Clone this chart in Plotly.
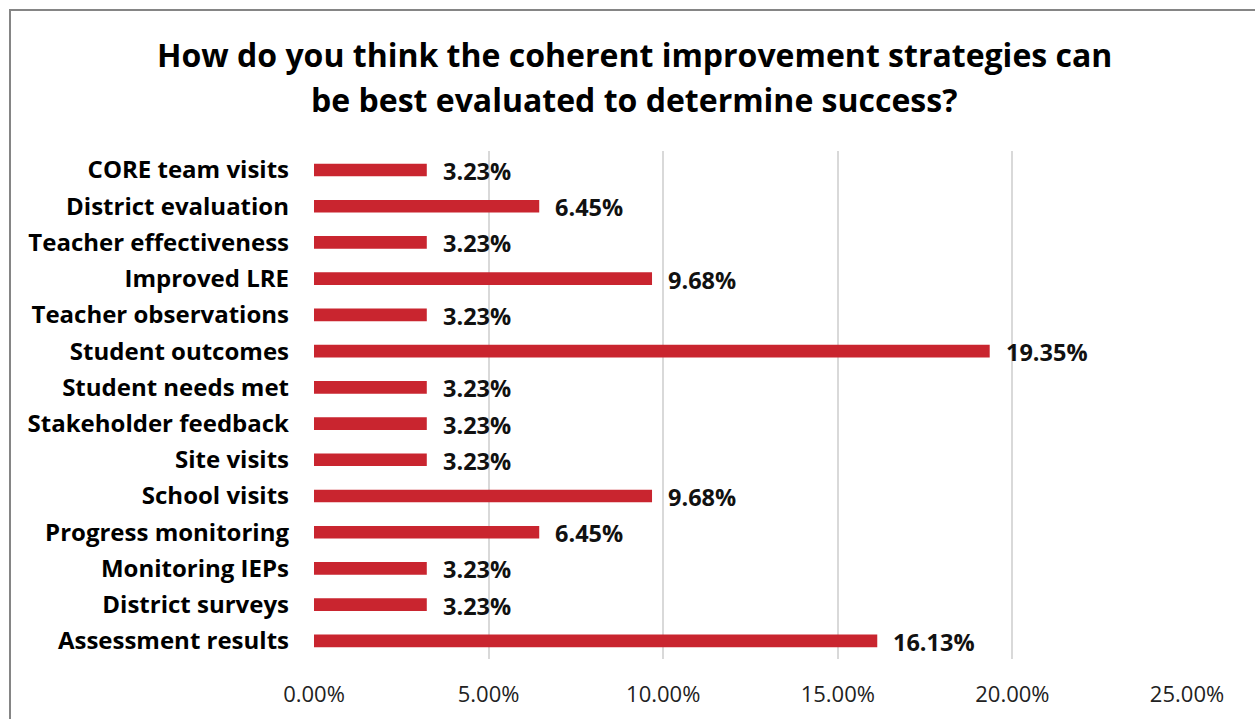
import plotly.graph_objects as go

# Survey responses, listed top to bottom as displayed
categories = [
    "CORE team visits",
    "District evaluation",
    "Teacher effectiveness",
    "Improved LRE",
    "Teacher observations",
    "Student outcomes",
    "Student needs met",
    "Stakeholder feedback",
    "Site visits",
    "School visits",
    "Progress monitoring",
    "Monitoring IEPs",
    "District surveys",
    "Assessment results",
]
shares = [
    0.0323, 0.0645, 0.0323, 0.0968, 0.0323, 0.1935, 0.0323,
    0.0323, 0.0323, 0.0968, 0.0645, 0.0323, 0.0323, 0.1613,
]
x_ticks = [0.0, 0.05, 0.10, 0.15, 0.20, 0.25]

TITLE_LINES = [
    "How do you think the coherent improvement strategies can",
    "be best evaluated to determine success?",
]
FONT = "Open Sans"
BAR_COLOR = "#C9252F"

W, H = 1255, 719
M_L, M_R, M_T, M_B = 314, 68, 151, 60
pw = W - M_L - M_R
ph = H - M_T - M_B


def px_to_paper_x(px):
    return (px - M_L) / pw


def px_to_paper_y(py):
    return (H - M_B - py) / ph


fig = go.Figure(
    go.Bar(
        x=shares,
        y=categories,
        orientation="h",
        marker=dict(color=BAR_COLOR, line=dict(width=0)),
        width=0.35,
        hoverinfo="skip",
    )
)

# Value labels to the right of each bar
for cat, v in zip(categories, shares):
    fig.add_annotation(
        x=v, y=cat, xref="x", yref="y",
        text=f"<b>{v * 100:.2f}%</b>",
        showarrow=False, xanchor="left", yanchor="middle",
        xshift=14, yshift=-1,
        font=dict(family=FONT, size=23.5, color="#111111"),
    )

# Two-line heading
for line, py in zip(TITLE_LINES, [55, 100]):
    fig.add_annotation(
        x=px_to_paper_x(634), y=px_to_paper_y(py),
        xref="paper", yref="paper",
        text=f"<b>{line}</b>",
        showarrow=False, xanchor="center", yanchor="middle",
        font=dict(family=FONT, size=32, color="#000000"),
    )

# Outer frame around the chart area
fig.add_shape(
    type="rect", xref="paper", yref="paper",
    x0=px_to_paper_x(10), x1=px_to_paper_x(W + 8),
    y0=px_to_paper_y(H + 8), y1=px_to_paper_y(10),
    line=dict(color="#858585", width=2), fillcolor="rgba(0,0,0,0)",
    layer="below",
)

fig.update_layout(
    width=W, height=H,
    margin=dict(l=M_L, r=M_R, t=M_T, b=M_B),
    paper_bgcolor="white", plot_bgcolor="white",
    showlegend=False,
    font=dict(family=FONT, color="#000000"),
    xaxis=dict(
        range=[0, 0.25],
        tickvals=x_ticks,
        tickformat=".2%",
        showgrid=True, gridcolor="#D9D9D9", gridwidth=2,
        zeroline=False, showline=False,
        ticks="", ticklabelstandoff=20,
        tickfont=dict(family=FONT, size=22, color="#222222"),
    ),
    yaxis=dict(
        autorange="reversed",
        showgrid=False, zeroline=False, showline=False,
        ticks="", ticklabelstandoff=24,
        tickfont=dict(family=FONT, size=24, color="#000000", weight="bold"),
    ),
    bargap=0.65,
)

fig.write_html("out.html")
